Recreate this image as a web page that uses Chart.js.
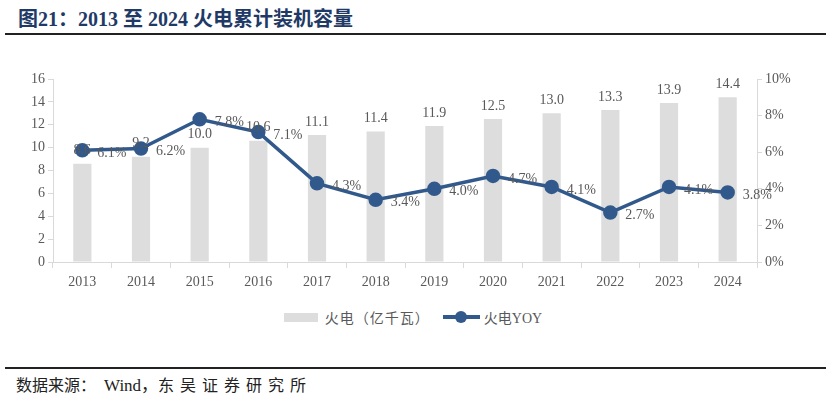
<!DOCTYPE html>
<html>
<head>
<meta charset="utf-8">
<script src="https://cdn.jsdelivr.net/npm/chart.js@4.4.1/dist/chart.umd.min.js"></script>
<style>
  body { margin:0; width:826px; height:402px; background:#fff; position:relative; overflow:hidden; }
  #title { position:absolute; left:18px; top:3px; font-family:"Liberation Serif","Noto Sans CJK SC",serif; font-weight:bold; font-size:20px; color:#1f3a66; }
  .rule { position:absolute; left:5px; right:0; height:2px; background:#222; }
  #wrap { position:absolute; left:0; top:50px; width:826px; height:250px; }
  #legend { position:absolute; top:307px; left:0; width:826px; display:flex; justify-content:center; align-items:center; font-family:"Liberation Serif","Noto Sans CJK SC",serif; font-size:14px; color:#595959; }
  #legend .box { width:34px; height:9px; background:#dddddd; margin-right:7px; }
  #legend .t1 { letter-spacing:1px; }
  #legend .ln { position:relative; width:37px; height:4px; background:#31598c; margin:0 4px 0 13px; }
  #legend .ln::after { content:""; position:absolute; left:12px; top:-4px; width:12px; height:12px; border-radius:50%; background:#31598c; }
  #source { position:absolute; left:16px; top:371px; font-family:"Liberation Serif","Noto Sans CJK SC",serif; font-size:16px; color:#222; }
  #source .w { margin-left:8px; font-size:17px; }
  #source .s { letter-spacing:6px; }
</style>
</head>
<body>
<div id="title">图21：2013 至 2024 火电累计装机容量</div>
<div class="rule" style="top:33px"></div>
<div id="wrap"><canvas id="canvas"></canvas></div>
<div id="legend"><span class="box"></span><span class="t1">火电（亿千瓦）</span><span class="ln"></span><span>火电YOY</span></div>
<div class="rule" style="top:367px"></div>
<div id="source">数据来源：<span class="w">Wind，</span><span class="s">东吴证券研究所</span></div>
<script>
"use strict"
let years = ["2013","2014","2015","2016","2017","2018","2019","2020","2021","2022","2023","2024"];
let capacity = [8.6, 9.2, 10.0, 10.6, 11.1, 11.4, 11.9, 12.5, 13.0, 13.3, 13.9, 14.4]; // 亿千瓦
let yoy = [6.1, 6.2, 7.8, 7.1, 4.3, 3.4, 4.0, 4.7, 4.1, 2.7, 4.1, 3.8]; // %

let labelFont = '14px "Liberation Serif", serif';

// etichette dei valori, disegnate a mano (niente plugin datalabels offline)
let valueLabels = {
    id : "valueLabels",
    afterDatasetsDraw(chart){
        let ctx = chart.ctx;
        ctx.save();
        ctx.font = labelFont;
        ctx.fillStyle = "#595959";
        chart.getDatasetMeta(0).data.forEach(function(bar, i){
            ctx.textAlign = "center";
            ctx.textBaseline = "bottom";
            ctx.fillText(capacity[i].toFixed(1), bar.x, bar.y - 6);
        });
        chart.getDatasetMeta(1).data.forEach(function(pt, i){
            ctx.textAlign = "left";
            ctx.textBaseline = "middle";
            ctx.fillText(yoy[i].toFixed(1) + "%", pt.x + 15, pt.y + 3);
        });
        ctx.restore();
    }
};

let tickStyle = { color:"#595959", font:{ family:"Liberation Serif", size:14 } };

let chartOptions = {
    type : "bar",
    data : {
        labels : years,
        datasets : [{
            label : "火电（亿千瓦）",
            data : capacity,
            backgroundColor : "#dddddd",
            barPercentage : 0.31,
            categoryPercentage : 1,
            yAxisID : "y",
            order : 1
        },{
            type : "line",
            label : "火电YOY",
            data : yoy,
            borderColor : "#31598c",
            backgroundColor : "#31598c",
            borderWidth : 3.5,
            pointRadius : 5.5,
            pointHoverRadius : 5.5,
            tension : 0,
            yAxisID : "y1",
            order : 0
        }]
    },
    options : {
        responsive : true,
        maintainAspectRatio : false,
        animation : false,
        layout : { padding : { top:29, left:8, right:8, bottom:0 } },
        plugins : { legend : { display:false }, tooltip : { enabled:false } },
        scales : {
            x : {
                grid : { offset:true, drawOnChartArea:false, tickLength:6, color:"#d9d9d9" },
                border : { color:"#d9d9d9" },
                ticks : Object.assign({ padding:6 }, tickStyle),
                afterFit(scale){ scale.height = 38; }
            },
            y : {
                position : "left",
                min : 0, max : 16,
                ticks : Object.assign({ stepSize:2, padding:3 }, tickStyle),
                grid : { drawOnChartArea:false, tickLength:5, color:"#d9d9d9" },
                border : { color:"#d9d9d9" },
                afterFit(scale){ scale.width = 45; }
            },
            y1 : {
                position : "right",
                min : 0, max : 10,
                ticks : Object.assign({ stepSize:2, padding:3, callback : function(v){ return v + "%"; } }, tickStyle),
                grid : { drawOnChartArea:false, tickLength:5, color:"#d9d9d9" },
                border : { color:"#d9d9d9" },
                afterFit(scale){ scale.width = 61; }
            }
        }
    },
    plugins : [valueLabels]
};

let chart = new Chart(document.getElementById("canvas"), chartOptions);
</script>
</body>
</html>
